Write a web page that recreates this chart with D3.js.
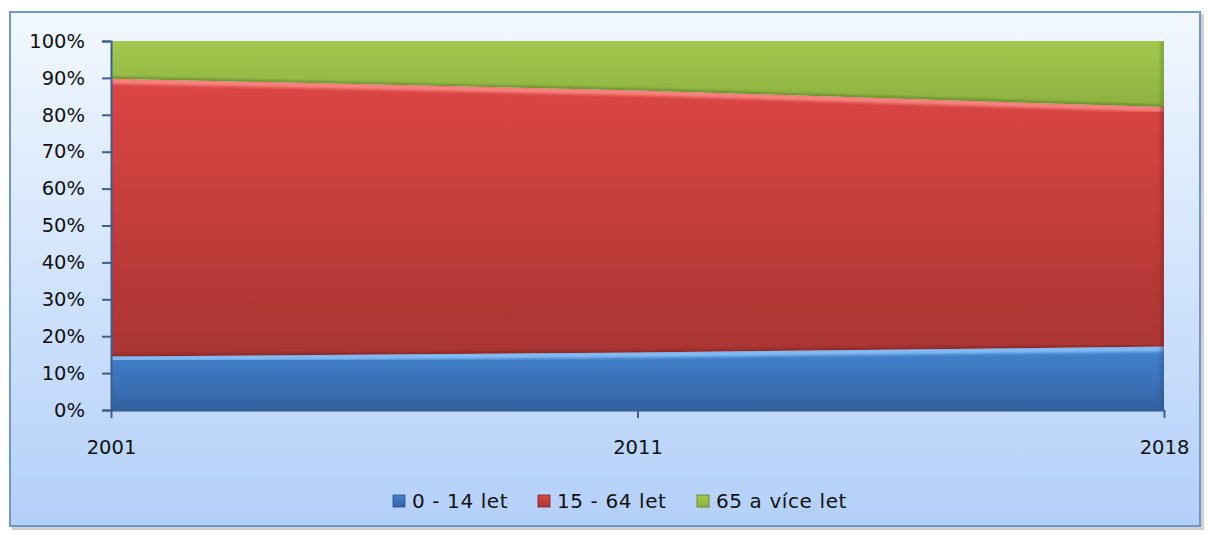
<!DOCTYPE html>
<html>
<head>
<meta charset="utf-8">
<script src="https://cdn.jsdelivr.net/npm/d3@7"></script>
<style>
  body { margin: 0; background: #fff; }
  text { font-family: "DejaVu Sans", sans-serif; fill: #111; }
</style>
</head>
<body>
<div id="chart"></div>
<script>
var years = ["2001", "2011", "2018"];
var seriesNames = ["0 - 14 let", "15 - 64 let", "65 a více let"];
var young = [14.5, 15.6, 17.2];
var working = [75.3, 71.0, 64.9];
var old = [10.2, 13.4, 17.9];
var yTicks = [0, 10, 20, 30, 40, 50, 60, 70, 80, 90, 100];

var colors = [
  { top: "#4384d0", bottom: "#3462a3", light: "#96ccff", dark: "#2c4f80" },
  { top: "#dc4643", bottom: "#a93533", light: "#ff9490", dark: "#7a2321" },
  { top: "#a2c84e", bottom: "#8cb140", light: "#d8f090", dark: "#5d7a24" }
];

var width = 1208, height = 535;
var svg = d3.select("#chart").append("svg")
  .attr("width", width)
  .attr("height", height);
var defs = svg.append("defs");

var bg = defs.append("linearGradient").attr("id", "bg")
  .attr("x1", 0).attr("y1", 0).attr("x2", 0).attr("y2", 1);
bg.append("stop").attr("offset", 0).attr("stop-color", "#f2f8ff");
bg.append("stop").attr("offset", 1).attr("stop-color", "#b3d0f9");

defs.append("filter").attr("id", "soft")
  .append("feGaussianBlur").attr("stdDeviation", 1.6);

svg.append("rect")
  .attr("x", 12).attr("y", 14).attr("width", 1192).attr("height", 516)
  .attr("fill", "#d0d0d0");
svg.append("rect")
  .attr("x", 10).attr("y", 12).attr("width", 1190).attr("height", 514)
  .attr("fill", "url(#bg)")
  .attr("stroke", "#7196c9").attr("stroke-width", 2);

var x = d3.scalePoint().domain(years).range([111, 1164]);
var y = d3.scaleLinear().domain([0, 100]).range([410, 41]);

var table = years.map(function(yr, i) {
  return { year: yr, a: young[i], b: working[i], c: old[i] };
});
var layers = d3.stack().keys(["a", "b", "c"])(table);

var area = d3.area()
  .x(function(d) { return x(d.data.year); })
  .y0(function(d) { return y(d[0]); })
  .y1(function(d) { return y(d[1]); });
var topLine = d3.line()
  .x(function(d) { return x(d.data.year); })
  .y(function(d) { return y(d[1]); });
var bottomLine = d3.line()
  .x(function(d) { return x(d.data.year); })
  .y(function(d) { return y(d[0]); });

layers.forEach(function(layer, i) {
  var c = colors[i];
  var g = defs.append("linearGradient").attr("id", "fill" + i)
    .attr("x1", 0).attr("y1", 0).attr("x2", 0).attr("y2", 1);
  g.append("stop").attr("offset", 0).attr("stop-color", c.top);
  g.append("stop").attr("offset", 1).attr("stop-color", c.bottom);

  defs.append("clipPath").attr("id", "clip" + i)
    .append("path").attr("d", area(layer));

  var grp = svg.append("g").attr("clip-path", "url(#clip" + i + ")");
  grp.append("path")
    .attr("d", area(layer))
    .attr("fill", "url(#fill" + i + ")");
  // bevel: soft light top edge, dark bottom edge
  grp.append("path")
    .attr("d", topLine(layer))
    .attr("transform", "translate(0,2)")
    .attr("fill", "none")
    .attr("filter", "url(#soft)")
    .attr("stroke", c.light).attr("stroke-width", 6).attr("stroke-opacity", 0.8);
  grp.append("path")
    .attr("d", bottomLine(layer))
    .attr("fill", "none")
    .attr("filter", "url(#soft)")
    .attr("stroke", c.dark).attr("stroke-width", 4).attr("stroke-opacity", 0.7);
  grp.append("rect")
    .attr("x", x("2018") - 4).attr("y", y(100)).attr("width", 6).attr("height", y(0) - y(100))
    .attr("fill", c.dark).attr("opacity", 0.35)
    .attr("filter", "url(#soft)");
});

var yAxis = svg.append("g")
  .attr("transform", "translate(111,0)")
  .call(d3.axisLeft(y).tickValues(yTicks).tickSize(9).tickPadding(17)
    .tickFormat(function(d) { return d + "%"; }));
yAxis.select(".domain").attr("stroke", "#3d5f8f").attr("stroke-width", 2);
yAxis.selectAll(".tick line").attr("stroke", "#3d5f8f").attr("stroke-width", 2);
yAxis.selectAll("text").attr("font-size", 19.5).attr("fill", "#111")
  .style("font-family", "DejaVu Sans");

var xAxis = svg.append("g")
  .attr("transform", "translate(0,410)")
  .call(d3.axisBottom(x).tickSize(8).tickPadding(22).tickSizeOuter(0));
xAxis.select(".domain").attr("stroke", "#3d5f8f").attr("stroke-width", 2);
xAxis.selectAll(".tick line").attr("stroke", "#3d5f8f").attr("stroke-width", 2);
xAxis.selectAll("text").attr("font-size", 19.5).attr("fill", "#111")
  .style("font-family", "DejaVu Sans");

var legendX = [393, 538, 697];
var legend = svg.append("g");
seriesNames.forEach(function(name, i) {
  var c = colors[i];
  legend.append("rect")
    .attr("x", legendX[i]).attr("y", 495).attr("width", 12).attr("height", 12)
    .attr("fill", "url(#fill" + i + ")")
    .attr("stroke", c.dark).attr("stroke-width", 0.8);
  legend.append("text")
    .attr("x", legendX[i] + 19).attr("y", 508)
    .attr("font-size", 20)
    .attr("letter-spacing", 0.6)
    .text(name);
});
</script>
</body>
</html>
